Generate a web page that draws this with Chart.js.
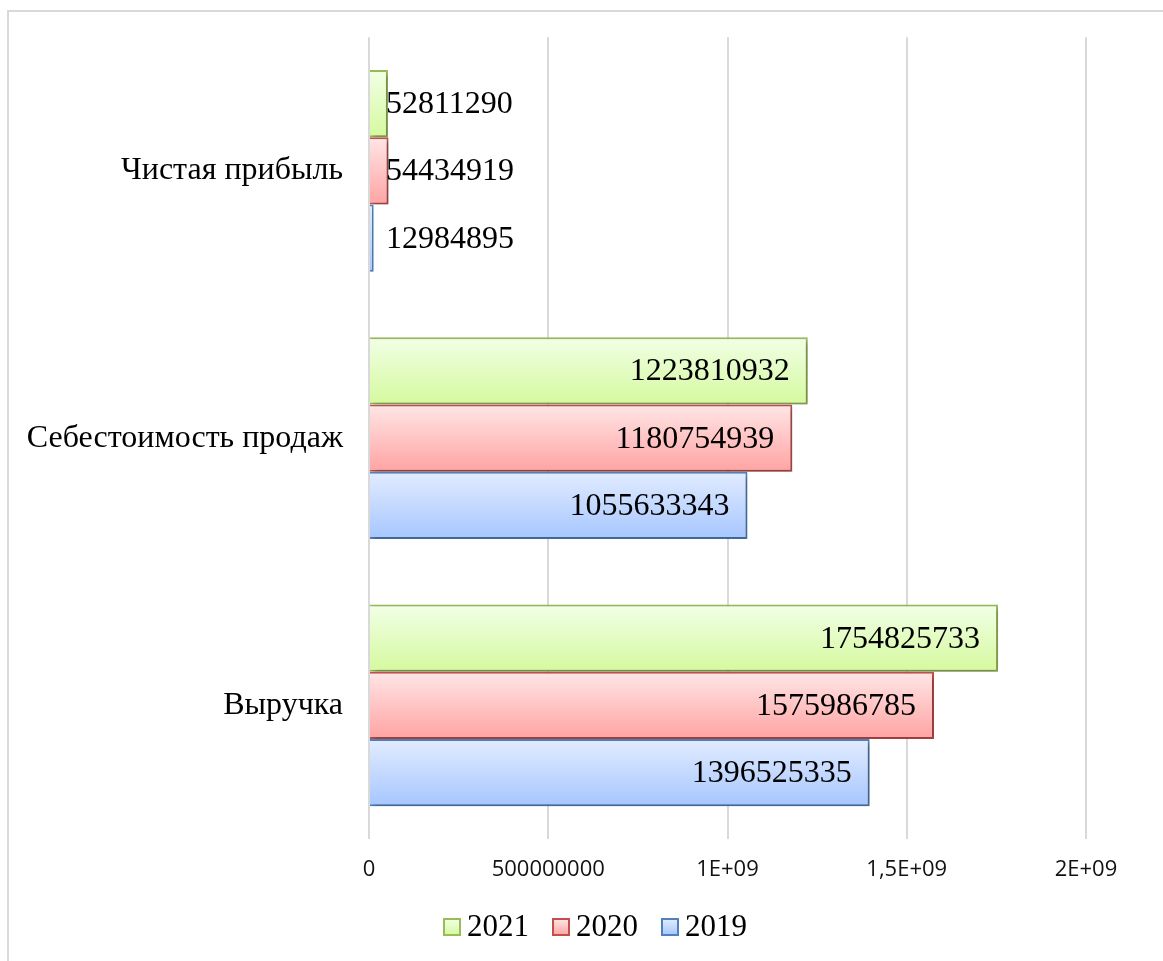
<!DOCTYPE html>
<html>
<head>
<meta charset="utf-8">
<script src="https://cdn.jsdelivr.net/npm/chart.js@4"></script>
<style>
  html, body { margin: 0; padding: 0; background: #fff; }
  #wrap { position: relative; width: 1163px; height: 961px; overflow: hidden; }
  #frame { position: absolute; left: 7px; top: 10px; right: -10px; bottom: -10px; border: 2px solid #d9d9d9; }
  #chart { position: absolute; left: 0; top: 0; }
</style>
</head>
<body>
<div id="wrap">
  <div id="frame"></div>
  <canvas id="chart" width="1163" height="961"></canvas>
</div>
<script>
var categories = ['Чистая прибыль', 'Себестоимость продаж', 'Выручка'];
var years = ['2021', '2020', '2019'];
var values2021 = [52811290, 1223810932, 1754825733];
var values2020 = [54434919, 1180754939, 1575986785];
var values2019 = [12984895, 1055633343, 1396525335];
var tickLabels = ['0', '500000000', '1E+09', '1,5E+09', '2E+09'];

// top/bottom colours of each bar gradient, plus outline
var palette = [
  { top: '#f1ffe6', bottom: '#d5f99e', border: '#9bbb59', box: '#e6fdcc' },
  { top: '#ffe6e6', bottom: '#ffa3a3', border: '#c0504d', box: '#ffcccc' },
  { top: '#e2ecff', bottom: '#a6c6ff', border: '#4f81bd', box: '#cfe0ff' }
];

var serif = "'Liberation Serif', 'Times New Roman', serif";

// vertical gradient per bar + soft drop shadow
var barStyle = {
  id: 'barStyle',
  beforeDatasetDraw: function (chart, args) {
    var ctx = chart.ctx;
    var p = palette[args.index];
    args.meta.data.forEach(function (el) {
      var t = el.y - el.height / 2, b = el.y + el.height / 2;
      var g = ctx.createLinearGradient(0, t, 0, b);
      g.addColorStop(0, p.top);
      g.addColorStop(1, p.bottom);
      el.options = Object.assign({}, el.options, { backgroundColor: g });
    });
    ctx.save();
    ctx.shadowColor = 'rgba(0,0,0,0.28)';
    ctx.shadowBlur = 5;
    ctx.shadowOffsetX = 3;
    ctx.shadowOffsetY = 3;
  },
  afterDatasetDraw: function (chart) {
    chart.ctx.restore();
  }
};

// value labels: inside the end when there is room, otherwise just past the axis
var valueLabels = {
  id: 'valueLabels',
  afterDatasetsDraw: function (chart) {
    var ctx = chart.ctx;
    ctx.save();
    ctx.font = '32px ' + serif;
    ctx.fillStyle = '#000';
    ctx.textBaseline = 'middle';
    chart.data.datasets.forEach(function (ds, di) {
      chart.getDatasetMeta(di).data.forEach(function (el, i) {
        var txt = String(ds.data[i]);
        var w = ctx.measureText(txt).width;
        if (el.x - el.base > w + 36) {
          ctx.textAlign = 'right';
          ctx.fillText(txt, el.x - 18, el.y + 1);
        } else {
          ctx.textAlign = 'left';
          ctx.fillText(txt, el.base + 16, el.y + 1);
        }
      });
    });
    ctx.restore();
  }
};

// compact legend row under the axis
var legendRow = {
  id: 'legendRow',
  afterDraw: function (chart) {
    var ctx = chart.ctx;
    var box = 16, gap = 7, spacing = 24, cy = 927;
    ctx.save();
    ctx.font = '31px ' + serif;
    ctx.textBaseline = 'middle';
    ctx.textAlign = 'left';
    var widths = years.map(function (y) { return ctx.measureText(y).width; });
    var total = widths.reduce(function (s, w) { return s + box + gap + w; }, 0) + spacing * (years.length - 1);
    var x = chart.width / 2 + 14 - total / 2;
    years.forEach(function (y, i) {
      var g = ctx.createLinearGradient(0, cy - box / 2, 0, cy + box / 2);
      g.addColorStop(0, palette[i].top);
      g.addColorStop(1, palette[i].bottom);
      ctx.fillStyle = g;
      ctx.fillRect(x, cy - box / 2, box, box);
      ctx.strokeStyle = palette[i].border;
      ctx.lineWidth = 2;
      ctx.strokeRect(x, cy - box / 2, box, box);
      ctx.fillStyle = '#000';
      ctx.fillText(y, x + box + gap, cy + 1);
      x += box + gap + widths[i] + spacing;
    });
    ctx.restore();
  }
};

var seriesValues = [values2021, values2020, values2019];

new Chart(document.getElementById('chart'), {
  type: 'bar',
  data: {
    labels: categories,
    datasets: years.map(function (y, i) {
      return {
        label: y,
        data: seriesValues[i],
        backgroundColor: palette[i].box,
        borderColor: palette[i].border,
        borderWidth: 2,
        borderSkipped: 'start'
      };
    })
  },
  options: {
    indexAxis: 'y',
    responsive: false,
    animation: false,
    categoryPercentage: 0.755,
    barPercentage: 1.0,
    layout: { padding: { top: 35, right: 77, left: 10, bottom: 0 } },
    scales: {
      x: {
        min: 0,
        max: 2000000000,
        ticks: {
          stepSize: 500000000,
          color: '#111',
          padding: 18,
          maxRotation: 0,
          font: { family: "'Open Sans', sans-serif", size: 22 },
          callback: function (v, i) { return tickLabels[i]; }
        },
        grid: { color: '#d9d9d9', lineWidth: 2, drawTicks: false },
        border: { display: false },
        afterFit: function (scale) { scale.height = 122; }
      },
      y: {
        ticks: {
          color: '#000',
          padding: 18,
          font: { family: serif, size: 32 }
        },
        grid: { display: false },
        border: { display: false },
        afterFit: function (scale) { scale.width = 359; }
      }
    },
    plugins: {
      tooltip: { enabled: false },
      legend: { display: false }
    }
  },
  plugins: [barStyle, valueLabels, legendRow]
});
</script>
</body>
</html>
